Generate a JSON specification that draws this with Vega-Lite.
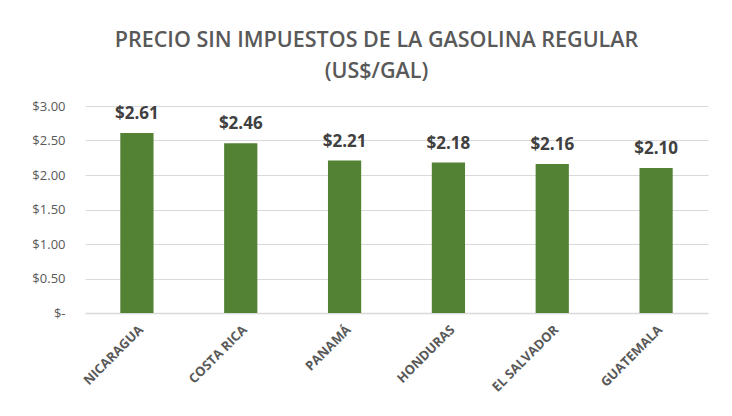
{
  "$schema": "https://vega.github.io/schema/vega-lite/v6.json",
  "width": 623,
  "height": 207,
  "autosize": {"type": "none"},
  "padding": {"left": 85, "top": 106, "right": 24, "bottom": 103},
  "background": "white",
  "title": {
    "text": ["PRECIO SIN IMPUESTOS DE LA GASOLINA REGULAR", "(US$/GAL)"],
    "font": "Open Sans",
    "fontSize": 21.5,
    "fontWeight": 600,
    "color": "#595959",
    "anchor": "middle",
    "dx": -20,
    "offset": 18,
    "lineHeight": 31
  },
  "data": {
    "values": [
      {"pais": "NICARAGUA", "precio": 2.61},
      {"pais": "COSTA RICA", "precio": 2.46},
      {"pais": "PANAMÁ", "precio": 2.21},
      {"pais": "HONDURAS", "precio": 2.18},
      {"pais": "EL SALVADOR", "precio": 2.16},
      {"pais": "GUATEMALA", "precio": 2.10}
    ]
  },
  "encoding": {
    "x": {
      "field": "pais",
      "type": "nominal",
      "sort": null,
      "title": null,
      "scale": {"paddingInner": 0.68, "paddingOuter": 0.34},
      "axis": {
        "labelAngle": -45,
        "labelFont": "Open Sans",
        "labelFontSize": 13,
        "labelFontWeight": "bold",
        "labelColor": "#595959",
        "labelPadding": 10,
        "ticks": false,
        "domainColor": "#d9d9d9",
        "domainWidth": 1.5
      }
    },
    "y": {
      "field": "precio",
      "type": "quantitative",
      "title": null,
      "scale": {"domain": [0, 3]},
      "axis": {
        "values": [0, 0.5, 1, 1.5, 2, 2.5, 3],
        "labelExpr": "datum.value == 0 ? '$-' : '$' + format(datum.value, '.2f')",
        "labelFont": "Open Sans",
        "labelFontSize": 13,
        "labelColor": "#595959",
        "labelPadding": 20,
        "ticks": false,
        "domain": false,
        "gridColor": "#d9d9d9",
        "gridWidth": 1
      }
    }
  },
  "layer": [
    {"mark": {"type": "bar", "color": "#548235"}},
    {
      "mark": {
        "type": "text",
        "baseline": "bottom",
        "dy": -10,
        "font": "Open Sans",
        "fontSize": 17,
        "fontWeight": "bold",
        "color": "#404040"
      },
      "encoding": {
        "text": {"field": "precio", "type": "quantitative", "format": "$.2f"}
      }
    }
  ],
  "config": {"view": {"stroke": null}}
}
